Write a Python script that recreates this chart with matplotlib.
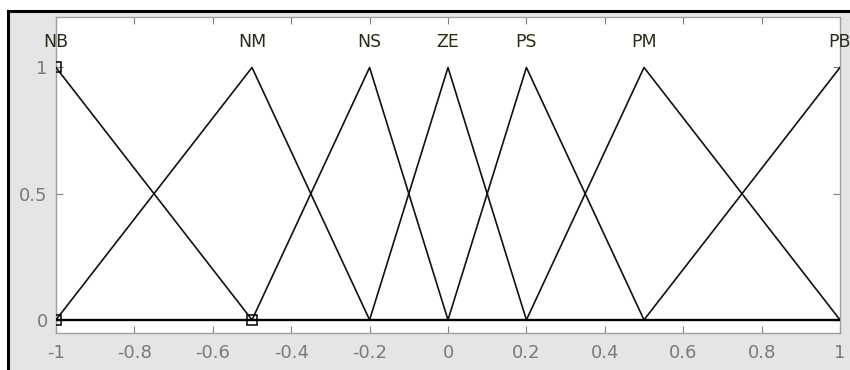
import matplotlib
matplotlib.use("Agg")
import matplotlib.pyplot as plt
from matplotlib.patches import Rectangle
from matplotlib.transforms import IdentityTransform
import numpy as np

plt.rcParams['font.family'] = ['DejaVu Sans']

# Membership functions of the input variable (triangular: a, b, c)
mf_names = ["NB", "NM", "NS", "ZE", "PS", "PM", "PB"]
mf_a = [-1.0, -1.0, -0.5, -0.2, 0.0, 0.2, 0.5]
mf_b = [-1.0, -0.5, -0.2, 0.0, 0.2, 0.5, 1.0]
mf_c = [-0.5, -0.2, 0.0, 0.2, 0.5, 1.0, 1.0]

x_ticks = [-1, -0.8, -0.6, -0.4, -0.2, 0, 0.2, 0.4, 0.6, 0.8, 1]
x_tick_labels = ["-1", "-0.8", "-0.6", "-0.4", "-0.2", "0", "0.2", "0.4", "0.6", "0.8", "1"]
y_ticks = [0, 0.5, 1]
y_tick_labels = ["0", "0.5", "1"]

# Selected vertices highlighted with square markers
sel_x = [-1.0, -1.0, -0.5]
sel_y = [1.0, 0.0, 0.0]

W, H = 850, 370
fig = plt.figure(figsize=(W / 100, H / 100), dpi=100, facecolor="white")

# window background with a dark frame on the top and left edges
bg = Rectangle((8, 0), W - 8, H - 11, transform=IdentityTransform(),
               facecolor="#e5e5e5", edgecolor="none", zorder=-10)
fig.patches.append(bg)
fig.add_artist(plt.Line2D([8, W], [H - 11, H - 11], transform=IdentityTransform(),
                          color="black", lw=2.2, zorder=-5))
fig.add_artist(plt.Line2D([8, 8], [0, H - 11], transform=IdentityTransform(),
                          color="black", lw=2.2, zorder=-5))

ax = fig.add_axes([56 / W, 37.5 / H, 784 / W, 315.5 / H])
ax.set_zorder(1)
ax.set_facecolor("white")
ax.set_xlim(-1, 1)
ax.set_ylim(-0.05, 1.2)


def trimf(x, a, b, c):
    left = (x - a) / (b - a) if b > a else 1.0
    right = (c - x) / (c - b) if c > b else 1.0
    return max(0.0, min(1.0, left, right))


for name, a, b, c in zip(mf_names, mf_a, mf_b, mf_c):
    xs = np.array(sorted(set([a, b, c])))
    ys = np.array([trimf(v, a, b, c) for v in xs])
    ax.plot(xs, ys, color="#111111", lw=1.2, zorder=3)
    ax.text(b, 1.1, name, ha="center", va="center", fontsize=12.5,
            color="#2b2b1c", clip_on=False, zorder=4)

# baseline
ax.plot([-1, 1], [0, 0], color="black", lw=1.7, zorder=3)

ax.plot(sel_x, sel_y, linestyle="none", marker="s", markersize=7.5,
        markerfacecolor="none", markeredgecolor="black", markeredgewidth=1.1,
        zorder=5)

ax.set_xticks(x_ticks)
ax.set_xticklabels(x_tick_labels)
ax.set_yticks(y_ticks)
ax.set_yticklabels(y_tick_labels)
ax.tick_params(direction="in", length=5, width=0.8, color="#808080",
               labelcolor="#7a7a7a", labelsize=13, top=True, right=True)
ax.tick_params(axis="x", pad=8)
ax.tick_params(axis="y", pad=6)
for s in ax.spines.values():
    s.set_color("#a0a0a0")
    s.set_linewidth(1.0)

fig.savefig("out.png", dpi=100, facecolor=fig.get_facecolor())
